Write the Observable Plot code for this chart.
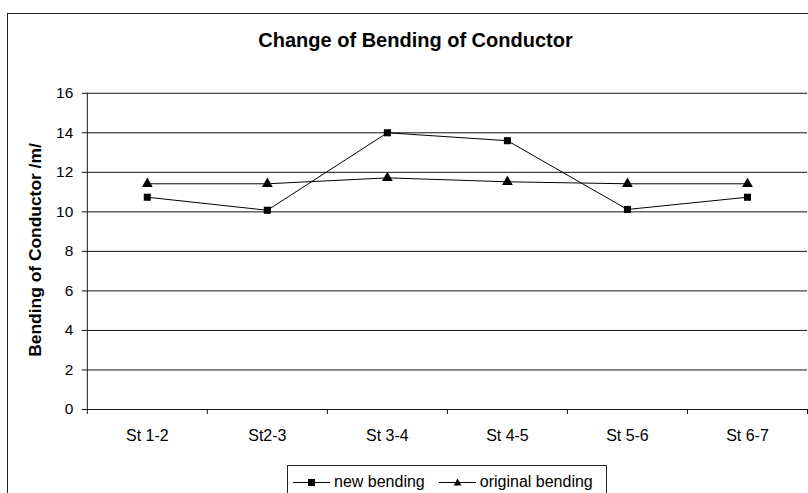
<!DOCTYPE html>
<html>
<head>
<meta charset="utf-8">
<script src="https://cdn.jsdelivr.net/npm/d3@7"></script>
<script src="https://cdn.jsdelivr.net/npm/@observablehq/plot@0.6"></script>
<style>
  html, body { margin: 0; padding: 0; background: #fff; }
  #wrap { position: relative; width: 808px; height: 493px; overflow: hidden; font-family: "Liberation Sans", Arial, sans-serif; color: #000; }
  #frame { position: absolute; left: 7px; top: 13px; width: 900px; height: 600px; border: 1px solid #222; box-sizing: border-box; }
  #title { position: absolute; left: 0; top: 29px; width: 831px; text-align: center; font-weight: bold; font-size: 20px; line-height: 22px; }
  #ylabel { position: absolute; left: 35px; top: 250px; transform: translate(-50%, -50%) rotate(-90deg); white-space: nowrap; font-weight: bold; font-size: 17.4px; line-height: 20px; }
  #chart { position: absolute; left: 0; top: 0; }
  #legend { position: absolute; left: 287px; top: 465px; width: 320px; height: 40px; border: 1px solid #222; box-sizing: border-box; background: #fff; display: flex; align-items: flex-start; padding-top: 6px; padding-left: 5px; font-size: 16px; line-height: 19px; }
  .item { display: flex; align-items: center; }
  .item svg { margin-right: 4px; }
  .item + .item { margin-left: 14px; }
</style>
</head>
<body>
<div id="wrap">
  <div id="frame"></div>
  <div id="title"></div>
  <div id="chart"></div>
  <div id="ylabel"></div>
  <div id="legend"></div>
</div>
<script>
const titleText = "Change of Bending of Conductor";
const yLabel = "Bending of Conductor /m/";
const categories = ["St 1-2", "St2-3", "St 3-4", "St 4-5", "St 5-6", "St 6-7"];
const newBending = [10.74, 10.08, 14.0, 13.6, 10.12, 10.74];
const originalBending = [11.42, 11.42, 11.72, 11.52, 11.42, 11.42];
const yTicks = [0, 2, 4, 6, 8, 10, 12, 14, 16];
const seriesNames = ["new bending", "original bending"];

document.getElementById("title").textContent = titleText;
document.getElementById("ylabel").textContent = yLabel;

const rows = categories.map((c, i) => ({cat: c, pos: i + 0.5, nw: newBending[i], orig: originalBending[i]}));
const bounds = d3.range(0, categories.length + 1);

const chart = Plot.plot({
  width: 810,
  height: 493,
  marginLeft: 87,
  marginRight: 1,
  marginTop: 93,
  marginBottom: 83,
  style: {fontFamily: "Liberation Sans, Arial, sans-serif", fontSize: "16px", color: "#000", background: "transparent"},
  x: {type: "linear", domain: [0, categories.length], axis: null},
  y: {type: "linear", domain: [0, 16], axis: null},
  marks: [
    Plot.ruleY(yTicks.filter(t => t > 0), {y: d => d, x1: 0, x2: categories.length, stroke: "#111", strokeWidth: 1}),
    Plot.ruleY([0], {y: d => d, x1: 0, x2: categories.length, stroke: "#111", strokeWidth: 1}),
    Plot.ruleX([0], {x: d => d, y1: 0, y2: 16, stroke: "#111", strokeWidth: 1}),
    Plot.ruleY(yTicks, {y: d => d, x1: 0, x2: 0, insetLeft: -5, stroke: "#111", strokeWidth: 1}),
    Plot.text(yTicks, {y: d => d, x: 0, dx: -14, text: d => String(d), textAnchor: "end", fill: "#000", fontSize: 15.5}),
    Plot.ruleX(bounds, {x: d => d, y1: 0, y2: 0, insetBottom: -5, stroke: "#111", strokeWidth: 1}),
    Plot.text(rows, {x: "pos", y: 0, dy: 26, text: "cat", fill: "#000", fontSize: 16}),
    Plot.line(rows, {x: "pos", y: "nw", stroke: "#000", strokeWidth: 1}),
    Plot.dot(rows, {x: "pos", y: "nw", symbol: "square", r: 4, fill: "#000", stroke: "none"}),
    Plot.line(rows, {x: "pos", y: "orig", stroke: "#000", strokeWidth: 1}),
    Plot.dot(rows, {x: "pos", y: "orig", symbol: "triangle", r: 4, fill: "#000", stroke: "none"})
  ]
});
document.getElementById("chart").appendChild(chart);

// legend
const legend = document.getElementById("legend");
seriesNames.forEach((name, k) => {
  const item = document.createElement("div");
  item.className = "item";
  const sym = k === 0
    ? '<rect x="15" y="5" width="7" height="7" fill="#000"/>'
    : '<path d="M18.5,4.5 L22.5,11.5 L14.5,11.5 Z" fill="#000"/>';
  item.innerHTML = '<svg width="37" height="16"><line x1="0" y1="8.5" x2="37" y2="8.5" stroke="#000" stroke-width="1"/>' + sym + '</svg><span>' + name + '</span>';
  legend.appendChild(item);
});
</script>
</body>
</html>
